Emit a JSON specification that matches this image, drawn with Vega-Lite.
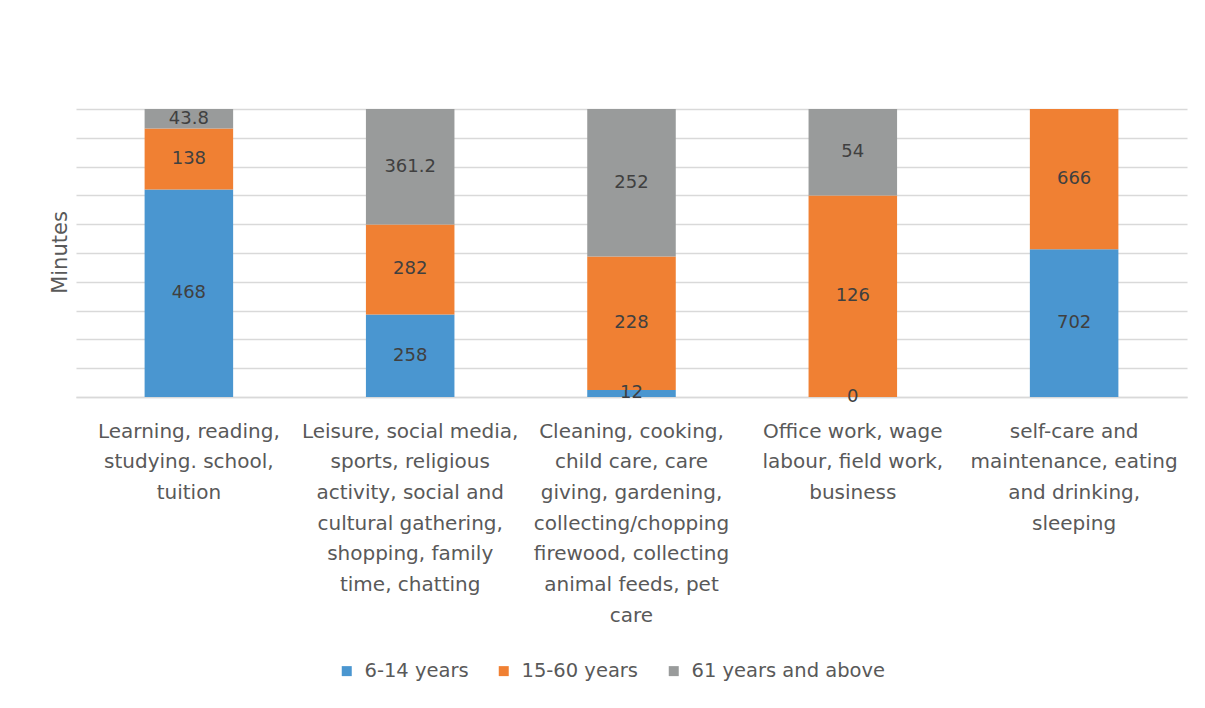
{
  "$schema": "https://vega.github.io/schema/vega-lite/v6.json",
  "width": 1111,
  "height": 288,
  "autosize": {"type": "none"},
  "padding": {"left": 76, "top": 109, "right": 18, "bottom": 311},
  "background": "white",
  "config": {
    "font": "DejaVu Sans",
    "view": {"stroke": null}
  },
  "data": {
    "values": [
      {"category": "Learning, reading, studying. school, tuition", "age": "6-14 years", "k": 1, "minutes": 468},
      {"category": "Learning, reading, studying. school, tuition", "age": "15-60 years", "k": 2, "minutes": 138},
      {"category": "Learning, reading, studying. school, tuition", "age": "61 years and above", "k": 3, "minutes": 43.8},
      {"category": "Leisure, social media, sports, religious activity, social and cultural gathering, shopping, family time, chatting", "age": "6-14 years", "k": 1, "minutes": 258},
      {"category": "Leisure, social media, sports, religious activity, social and cultural gathering, shopping, family time, chatting", "age": "15-60 years", "k": 2, "minutes": 282},
      {"category": "Leisure, social media, sports, religious activity, social and cultural gathering, shopping, family time, chatting", "age": "61 years and above", "k": 3, "minutes": 361.2},
      {"category": "Cleaning, cooking, child care, care giving, gardening, collecting/chopping firewood, collecting animal feeds, pet care", "age": "6-14 years", "k": 1, "minutes": 12},
      {"category": "Cleaning, cooking, child care, care giving, gardening, collecting/chopping firewood, collecting animal feeds, pet care", "age": "15-60 years", "k": 2, "minutes": 228},
      {"category": "Cleaning, cooking, child care, care giving, gardening, collecting/chopping firewood, collecting animal feeds, pet care", "age": "61 years and above", "k": 3, "minutes": 252},
      {"category": "Office work, wage labour, field work, business", "age": "6-14 years", "k": 1, "minutes": 0},
      {"category": "Office work, wage labour, field work, business", "age": "15-60 years", "k": 2, "minutes": 126},
      {"category": "Office work, wage labour, field work, business", "age": "61 years and above", "k": 3, "minutes": 54},
      {"category": "self-care and maintenance, eating and drinking, sleeping", "age": "6-14 years", "k": 1, "minutes": 702},
      {"category": "self-care and maintenance, eating and drinking, sleeping", "age": "15-60 years", "k": 2, "minutes": 666}
    ]
  },
  "transform": [
    {"stack": "minutes", "groupby": ["category"], "sort": [{"field": "k", "order": "ascending"}], "offset": "normalize", "as": ["y0", "y1"]},
    {"calculate": "(datum.y0 + datum.y1) / 2", "as": "mid"}
  ],
  "encoding": {
    "x": {
      "field": "category",
      "type": "nominal",
      "sort": null,
      "scale": {"paddingInner": 0.6, "paddingOuter": 0.31},
      "axis": {
        "title": null,
        "labelAngle": 0,
        "ticks": false,
        "domainColor": "#d9d9d9",
        "domainWidth": 1.5,
        "labelFontSize": 20,
        "labelColor": "#595959",
        "labelLimit": 0,
        "labelPadding": 24,
        "labelLineHeight": 30.7,
        "labelBaseline": "top",
        "labelExpr": "indexof(datum.value, 'Learning') == 0 ? ['Learning, reading,', 'studying. school,', 'tuition'] : indexof(datum.value, 'Leisure') == 0 ? ['Leisure, social media,', 'sports, religious', 'activity, social and', 'cultural gathering,', 'shopping, family', 'time, chatting'] : indexof(datum.value, 'Cleaning') == 0 ? ['Cleaning, cooking,', 'child care, care', 'giving, gardening,', 'collecting/chopping', 'firewood, collecting', 'animal feeds, pet', 'care'] : indexof(datum.value, 'Office') == 0 ? ['Office work, wage', 'labour, field work,', 'business'] : ['self-care and', 'maintenance, eating', 'and drinking,', 'sleeping']"
      }
    },
    "y": {
      "field": "y1",
      "type": "quantitative",
      "scale": {"domain": [0, 1], "nice": false},
      "axis": {
        "title": "Minutes",
        "titleFontSize": 21,
        "titleFontWeight": "normal",
        "titleColor": "#595959",
        "titleX": -6,
        "titleY": 143,
        "labels": false,
        "ticks": false,
        "domain": false,
        "grid": true,
        "gridColor": "#d9d9d9",
        "gridWidth": 1.5,
        "tickCount": 20,
        "values": [0, 0.1, 0.2, 0.3, 0.4, 0.5, 0.6, 0.7, 0.8, 0.9, 1]
      }
    }
  },
  "layer": [
    {
      "mark": {"type": "bar"},
      "encoding": {
        "y2": {"field": "y0"},
        "color": {
          "field": "age",
          "type": "nominal",
          "sort": ["6-14 years", "15-60 years", "61 years and above"],
          "scale": {"domain": ["6-14 years", "15-60 years", "61 years and above"], "range": ["#4a96d0", "#f08033", "#999b9b"]},
          "legend": {
            "title": null,
            "orient": "none",
            "direction": "horizontal",
            "legendX": 261,
            "legendY": 552,
            "symbolType": "square",
            "symbolSize": 100,
            "symbolStrokeWidth": 0,
            "labelFontSize": 19.5,
            "labelColor": "#595959",
            "labelOffset": 8,
            "labelLimit": 0,
            "columnPadding": 25
          }
        }
      }
    },
    {
      "mark": {"type": "text", "fontSize": 18, "color": "#404040", "baseline": "middle"},
      "encoding": {
        "y": {"field": "mid", "type": "quantitative"},
        "text": {"field": "minutes", "type": "quantitative", "format": "~g"}
      }
    }
  ]
}
